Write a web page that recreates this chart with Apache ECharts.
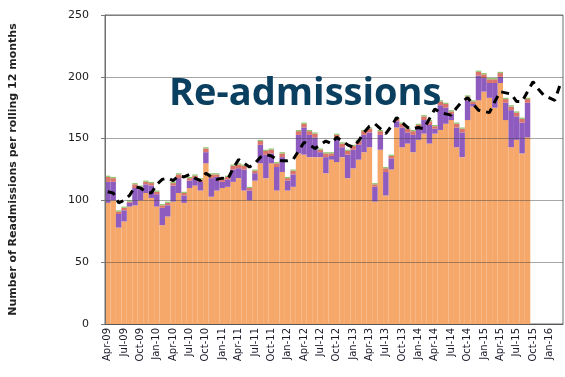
<!DOCTYPE html>
<html>
<head>
<meta charset="utf-8">
<script src="https://cdn.jsdelivr.net/npm/echarts@6/dist/echarts.min.js"></script>
<style>
  html, body { margin: 0; padding: 0; background: #ffffff; }
  #chart { width: 565px; height: 377px; }
</style>
</head>
<body>
<div id="chart"></div>
<script>
// Monthly categories, Apr-09 .. Mar-16
const months = [
  'Apr-09','May-09','Jun-09','Jul-09','Aug-09','Sep-09','Oct-09','Nov-09','Dec-09','Jan-10','Feb-10','Mar-10',
  'Apr-10','May-10','Jun-10','Jul-10','Aug-10','Sep-10','Oct-10','Nov-10','Dec-10','Jan-11','Feb-11','Mar-11',
  'Apr-11','May-11','Jun-11','Jul-11','Aug-11','Sep-11','Oct-11','Nov-11','Dec-11','Jan-12','Feb-12','Mar-12',
  'Apr-12','May-12','Jun-12','Jul-12','Aug-12','Sep-12','Oct-12','Nov-12','Dec-12','Jan-13','Feb-13','Mar-13',
  'Apr-13','May-13','Jun-13','Jul-13','Aug-13','Sep-13','Oct-13','Nov-13','Dec-13','Jan-14','Feb-14','Mar-14',
  'Apr-14','May-14','Jun-14','Jul-14','Aug-14','Sep-14','Oct-14','Nov-14','Dec-14','Jan-15','Feb-15','Mar-15',
  'Apr-15','May-15','Jun-15','Jul-15','Aug-15','Sep-15','Oct-15','Nov-15','Dec-15','Jan-16','Feb-16','Mar-16'
];

// Main readmissions component (orange base)
const baseCount = [
  98,100,78,83,95,96,100,106,102,95,80,87,
  99,106,98,110,112,108,130,103,108,110,111,115,
  118,108,100,116,130,118,130,108,123,108,111,138,
  137,135,135,135,122,133,131,135,118,126,133,139,
  143,99,141,104,125,159,143,146,139,149,154,146,
  154,157,162,165,143,135,165,176,181,188,183,175,
  195,165,143,149,138,151
];

// Second component (purple)
const purpleCount = [
  17,15,11,9,3,14,9,7,10,10,14,9,
  13,12,6,6,6,7,9,15,11,5,6,10,
  8,17,8,6,15,19,8,19,12,8,10,15,
  22,18,16,4,13,3,19,8,19,15,12,14,
  12,12,12,19,9,5,16,9,14,9,11,15,
  4,20,13,5,16,20,16,2,20,11,12,20,
  5,14,30,19,25,28
];

// Third component (red)
const redCount = [
  4,3,2,2,1,3,2,2,2,2,2,2,
  2,3,2,2,2,2,3,3,2,2,2,3,
  3,3,2,2,3,3,3,3,3,2,3,3,
  3,3,3,2,3,2,3,3,3,3,3,3,
  3,2,3,3,2,2,3,3,3,3,3,3,
  2,3,3,2,3,3,3,2,3,3,3,3,
  3,3,3,3,3,3
];

// Fourth component (green cap)
const greenCount = [
  1,1,1,1,1,1,1,1,1,1,1,1,
  1,1,1,1,1,1,1,1,1,1,1,1,
  1,1,1,1,1,1,1,1,1,1,1,1,
  1,1,1,1,1,1,1,1,1,1,1,1,
  1,1,1,1,1,1,1,1,1,1,1,1,
  1,1,1,1,1,1,1,1,1,1,1,1,
  1,1,1,1,1,1
];

// Expected / trajectory line
const expected = [
  107,106,98,100,104,111,110,107,106,113,117,118,
  116,120,119,121,118,116,122,119,117,118,117,126,
  133,130,127,130,135,137,136,133,132,132,133,140,
  147,145,142,145,148,146,151,148,145,143,148,155,
  160,162,158,154,160,167,163,159,158,159,158,166,
  174,171,170,169,175,180,183,178,173,172,171,180,
  188,187,186,180,180,188,196,190,185,183,181,194
];

const yTicks = { min: 0, max: 250, step: 50 };

const chart = echarts.init(document.getElementById('chart'), null, { renderer: 'canvas' });

const barSeries = (name, data, color) => ({
  name, type: 'bar', stack: 'r', data, barCategoryGap: '0%',
  itemStyle: { color }, emphasis: { disabled: true }, z: 2
});

chart.setOption({
  animation: false,
  backgroundColor: '#ffffff',
  title: {
    text: 'Re-admissions',
    left: 164, top: 70,
    textStyle: { fontFamily: 'Open Sans', fontWeight: 700, fontSize: 38, color: '#0b3f60' }
  },
  grid: { left: 100, right: 2, top: 15, bottom: 53, show: true, borderColor: '#6f6f6f', borderWidth: 1 },
  xAxis: {
    type: 'category',
    data: months,
    boundaryGap: true,
    axisLine: { lineStyle: { color: '#6f6f6f' } },
    axisTick: { interval: 2, length: 4, lineStyle: { color: '#555' } },
    axisLabel: {
      interval: 2, rotate: 90, fontSize: 10, margin: 4,
      fontFamily: 'DejaVu Sans', color: '#1a1a2a'
    }
  },
  yAxis: {
    type: 'value',
    min: yTicks.min, max: yTicks.max, interval: yTicks.step,
    z: 3,
    name: 'Number of Readmissions per rolling 12 months',
    nameLocation: 'middle', nameGap: 86, nameRotate: 90,
    nameTextStyle: { fontFamily: 'DejaVu Sans', fontWeight: 'bold', fontSize: 11, color: '#222' },
    axisLine: { show: true, lineStyle: { color: '#6f6f6f' } },
    axisTick: { show: true, length: 4, lineStyle: { color: '#777' } },
    axisLabel: { fontSize: 11, fontFamily: 'DejaVu Sans', color: '#1a1a1a', margin: 16 },
    splitLine: { lineStyle: { color: 'rgba(60,60,60,0.45)', width: 1 } }
  },
  series: [
    barSeries('Base', baseCount, '#f5a86a'),
    barSeries('Purple', purpleCount, '#8e5bbf'),
    barSeries('Red', redCount, '#d9736b'),
    barSeries('Green', greenCount, '#8fc46d'),
    {
      name: 'Expected', type: 'line', data: expected, z: 5,
      symbol: 'none',
      lineStyle: { color: '#000000', width: 3, type: [8, 6] },
      emphasis: { disabled: true }
    }
  ]
});
</script>
</body>
</html>
